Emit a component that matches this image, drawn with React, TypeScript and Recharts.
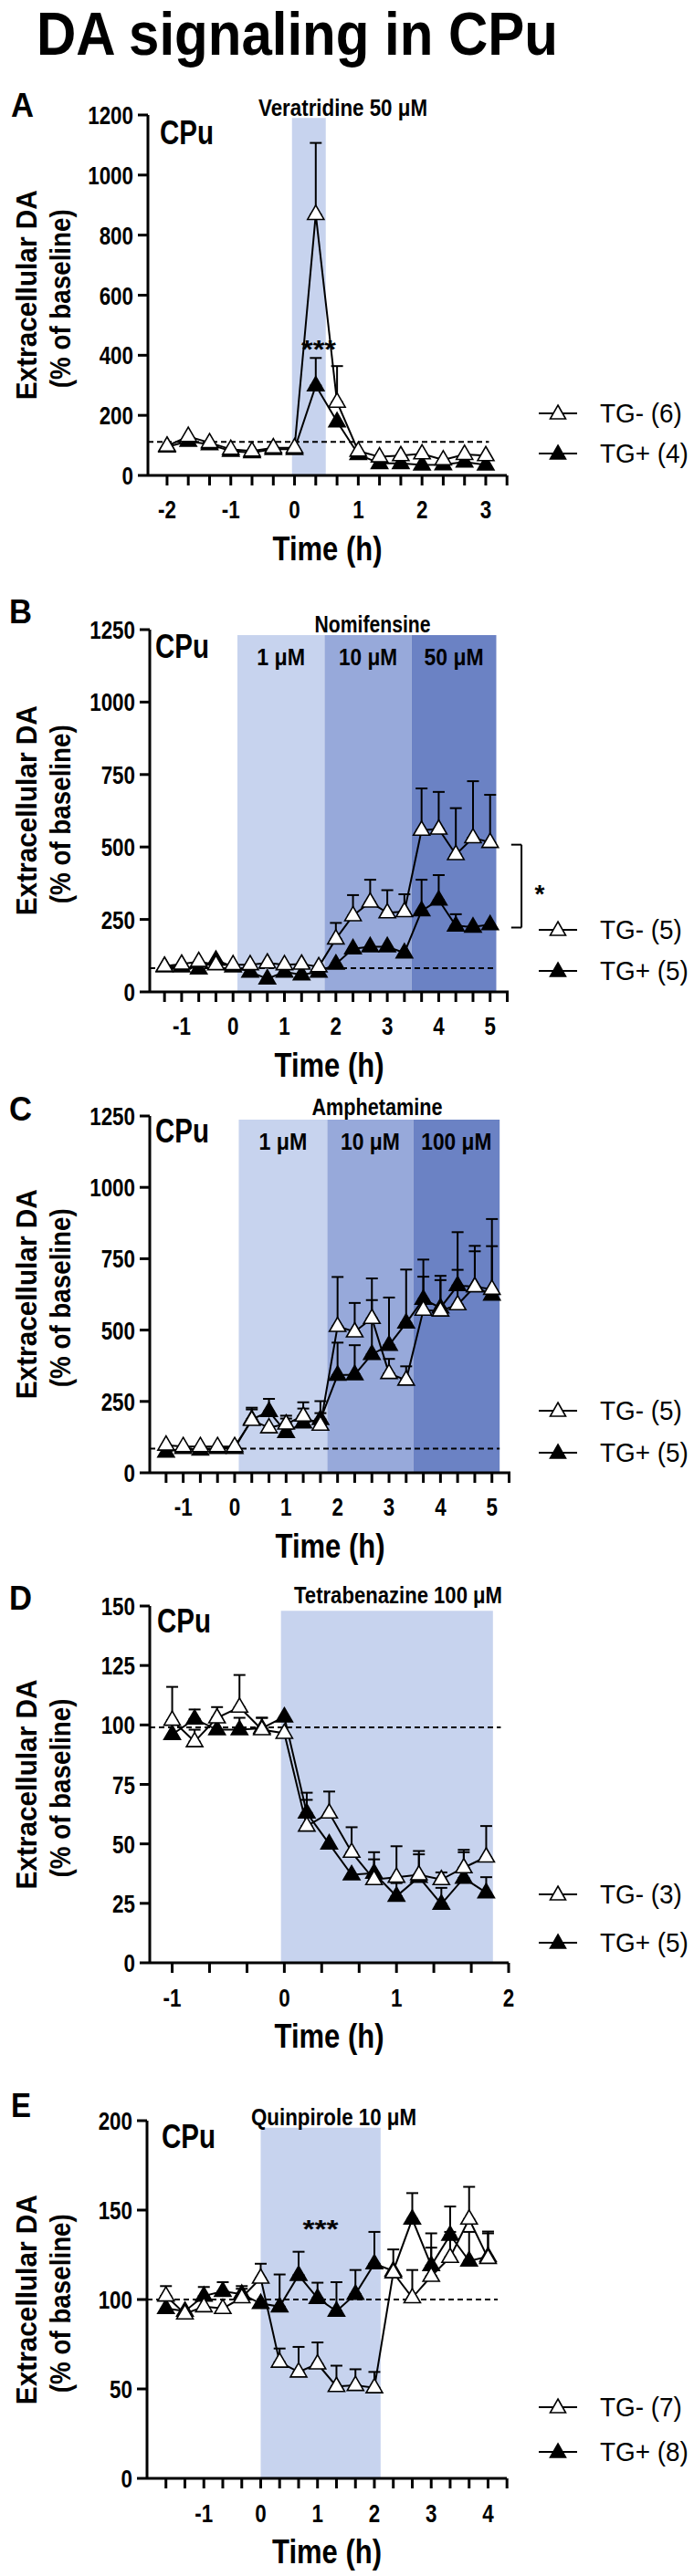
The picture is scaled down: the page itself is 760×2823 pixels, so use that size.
import React from "react";
import {
  ComposedChart,
  Line,
  XAxis,
  YAxis,
  ErrorBar,
  ReferenceArea,
  ReferenceLine,
  Legend,
} from "recharts";

const FONT = "'Liberation Sans', Arial, Helvetica, sans-serif";
const LIGHT = "#c7d3ee";
const MID = "#97a9da";
const DARK = "#6b82c4";

// ---------------- Panel A : Veratridine ----------------
const timeA = [-2, -1.667, -1.333, -1, -0.667, -0.333, 0, 0.333, 0.667, 1, 1.333, 1.667, 2, 2.333, 2.667, 3];
const tgMinusA = [98, 130, 109, 87, 81, 92, 92, 869, 244, 81, 62, 66, 72, 52, 70, 66];
const tgMinusTopA = [null, null, null, null, null, null, null, 1107, 364, null, null, null, null, null, null, null];
const tgPlusA = [95, 114, 103, 81, 76, 87, 87, 299, 179, 70, 40, 40, 35, 36, 45, 35];
const tgPlusTopA = [null, null, null, null, null, null, null, 391, null, null, null, null, null, null, null, null];
const xTicksA = [-2, -1.667, -1.333, -1, -0.667, -0.333, 0, 0.333, 0.667, 1, 1.333, 1.667, 2, 2.333, 2.667, 3, 3.333];
const yTicksA = [0, 200, 400, 600, 800, 1000, 1200];

// ---------------- Panel B : Nomifensine ----------------
const timeB = [-1.333, -1, -0.667, -0.333, 0, 0.333, 0.667, 1, 1.333, 1.667, 2, 2.333, 2.667, 3, 3.333, 3.667, 4, 4.333, 4.667, 5];
const tgMinusB = [89, 96, 105, 94, 94, 94, 100, 94, 96, 87, 183, 263, 310, 273, 277, 558, 562, 474, 532, 516];
const tgMinusTopB = [null, null, null, null, null, null, null, null, null, null, 238, 334, 387, 351, 337, 702, 690, 634, 727, 680];
const tgPlusB = [87, 87, 80, 110, 87, 69, 45, 69, 59, 69, 96, 149, 156, 156, 135, 280, 317, 228, 224, 232];
const tgPlusTopB = [null, null, null, null, null, null, null, null, null, null, null, null, null, null, null, 387, 403, 268, null, null];
const xTicksB = [-1.333, -1, -0.667, -0.333, 0, 0.333, 0.667, 1, 1.333, 1.667, 2, 2.333, 2.667, 3, 3.333, 3.667, 4, 4.333, 4.667, 5, 5.333];
const yTicksB = [0, 250, 500, 750, 1000, 1250];

// ---------------- Panel C : Amphetamine ----------------
const timeC = [-1.333, -1, -0.667, -0.333, 0, 0.333, 0.667, 1, 1.333, 1.667, 2, 2.333, 2.667, 3, 3.333, 3.667, 4, 4.333, 4.667, 5];
const tgMinusC = [97, 92, 92, 92, 92, 184, 158, 171, 199, 167, 513, 494, 541, 348, 325, 570, 567, 589, 652, 643];
const tgMinusTopC = [null, null, null, null, null, 228, null, 200, 247, 251, 686, 595, 681, 399, 373, 687, 675, 711, 795, 794];
const tgPlusC = [73, 86, 80, 86, 86, 187, 215, 142, 175, 187, 342, 344, 415, 447, 525, 608, 578, 656, 652, 623];
const tgPlusTopC = [null, null, null, null, null, 222, 259, 190, 225, 209, 456, 447, 605, 614, 712, 747, 690, 843, 776, 889];
const xTicksC = [-1.333, -1, -0.667, -0.333, 0, 0.333, 0.667, 1, 1.333, 1.667, 2, 2.333, 2.667, 3, 3.333, 3.667, 4, 4.333, 4.667, 5, 5.333];
const yTicksC = [0, 250, 500, 750, 1000, 1250];

// ---------------- Panel D : Tetrabenazine ----------------
const timeD = [-1, -0.8, -0.6, -0.4, -0.2, 0, 0.2, 0.4, 0.6, 0.8, 1, 1.2, 1.4, 1.6, 1.8];
const tgMinusD = [102, 93, 103, 107.5, 98, 96.5, 57.5, 63, 46.5, 35, 36, 37, 35, 40, 44.5];
const tgMinusTopD = [116, 98, 107.5, 121, 103, null, 68.5, 72, 57, 46.5, 49, 47, 38, 47.5, 57.5];
const tgPlusD = [96, 102.5, 98, 98, 98.6, 103.4, 63, 50, 37, 37.7, 28, 36, 24.7, 35.6, 29.5];
const tgPlusTopD = [null, 106.5, null, 103, 103, null, 71.5, null, null, 43.5, 33.5, 45.6, 31.5, 46.5, 36];
const xTicksD = [-1, -0.667, -0.333, 0, 0.333, 0.667, 1, 1.333, 1.667, 2];
const yTicksD = [0, 25, 50, 75, 100, 125, 150];

// ---------------- Panel E : Quinpirole ----------------
const timeE = [-1.667, -1.333, -1, -0.667, -0.333, 0, 0.333, 0.667, 1, 1.333, 1.667, 2, 2.333, 2.667, 3, 3.333, 3.667, 4];
const tgMinusE = [102, 92, 96, 95, 101, 112, 65, 59.5, 64, 51.4, 52, 50.7, 115, 101, 113, 123.6, 145, 123];
const tgMinusTopE = [107.5, null, null, null, 107.5, 120, 72.6, 73.5, 76, 63, 61, 59.5, 128, 116.5, 129, 137.8, 163, 138];
const tgPlusE = [95, 93.5, 102, 104.6, 103, 97.8, 96, 113.6, 100.7, 93.5, 103, 120, 116, 145, 119, 136, 121.6, 124];
const tgPlusTopE = [null, null, 107, 109.7, 106, null, 114, 126.7, 109.4, 109.7, 116.5, 137.8, null, 159.5, 137, 152, 137.8, 137];
const xTicksE = [-1.667, -1.333, -1, -0.667, -0.333, 0, 0.333, 0.667, 1, 1.333, 1.667, 2, 2.333, 2.667, 3, 3.333, 3.667, 4, 4.333];
const yTicksE = [0, 50, 100, 150, 200];

type Band = { x1: number; x2: number; y2: number; fill: string; text?: string; w?: number };
type Cfg = {
  key: string;
  top: number;
  bottom: number;
  left: number;
  right: number;
  domainX: [number, number];
  maxY: number;
  xTicks: number[];
  yTicks: number[];
  t: number[];
  neg: number[];
  negTop: (number | null)[];
  pos: number[];
  posTop: (number | null)[];
  base: number;
  baseEnd: number;
  bands: Band[];
  legend: [string, string];
  legendY: [number, number];
  bracket?: { x: number; x0: number; lo: number; hi: number };
};

const panels: Cfg[] = [
  {
    key: "A", top: 126, bottom: 520.5, left: 162, right: 555, domainX: [-2.3, 3.33], maxY: 1200,
    xTicks: xTicksA, yTicks: yTicksA, t: timeA, neg: tgMinusA, negTop: tgMinusTopA, pos: tgPlusA, posTop: tgPlusTopA,
    base: 112, baseEnd: 3.05,
    bands: [{ x1: -0.04, x2: 0.49, y2: 1190, fill: LIGHT }],
    legend: ["TG- (6)", "TG+ (4)"], legendY: [453, 497],
  },
  {
    key: "B", top: 690, bottom: 1086.5, left: 164, right: 557, domainX: [-1.62, 5.36], maxY: 1250,
    xTicks: xTicksB, yTicks: yTicksB, t: timeB, neg: tgMinusB, negTop: tgMinusTopB, pos: tgPlusB, posTop: tgPlusTopB,
    base: 82, baseEnd: 5.12,
    bands: [
      { x1: 0.085, x2: 1.78, y2: 1231, fill: LIGHT, text: "1 μM", w: 53 },
      { x1: 1.78, x2: 3.47, y2: 1231, fill: MID, text: "10 μM", w: 64 },
      { x1: 3.47, x2: 5.12, y2: 1231, fill: DARK, text: "50 μM", w: 65 },
    ],
    legend: ["TG- (5)", "TG+ (5)"], legendY: [1019, 1064],
    bracket: { x: 5.61, x0: 5.41, lo: 222, hi: 508 },
  },
  {
    key: "C", top: 1223, bottom: 1613.5, left: 164, right: 559, domainX: [-1.65, 5.36], maxY: 1250,
    xTicks: xTicksC, yTicks: yTicksC, t: timeC, neg: tgMinusC, negTop: tgMinusTopC, pos: tgPlusC, posTop: tgPlusTopC,
    base: 85, baseEnd: 5.15,
    bands: [
      { x1: 0.08, x2: 1.8, y2: 1237, fill: LIGHT, text: "1 μM", w: 53 },
      { x1: 1.8, x2: 3.47, y2: 1237, fill: MID, text: "10 μM", w: 65 },
      { x1: 3.47, x2: 5.15, y2: 1237, fill: DARK, text: "100 μM", w: 77 },
    ],
    legend: ["TG- (5)", "TG+ (5)"], legendY: [1546, 1592],
  },
  {
    key: "D", top: 1760, bottom: 2151, left: 164, right: 557, domainX: [-1.2, 2], maxY: 150,
    xTicks: xTicksD, yTicks: yTicksD, t: timeD, neg: tgMinusD, negTop: tgMinusTopD, pos: tgPlusD, posTop: tgPlusTopD,
    base: 99, baseEnd: 1.93,
    bands: [{ x1: -0.03, x2: 1.86, y2: 148, fill: LIGHT }],
    legend: ["TG- (3)", "TG+ (5)"], legendY: [2076, 2129],
  },
  {
    key: "E", top: 2324.3, bottom: 2716.7, left: 161, right: 555, domainX: [-2, 4.33], maxY: 200,
    xTicks: xTicksE, yTicks: yTicksE, t: timeE, neg: tgMinusE, negTop: tgMinusTopE, pos: tgPlusE, posTop: tgPlusTopE,
    base: 100, baseEnd: 4.17,
    bands: [{ x1: 0, x2: 2.11, y2: 196, fill: LIGHT }],
    legend: ["TG- (7)", "TG+ (8)"], legendY: [2638, 2687],
  },
];

const TriDot = (props: any) => {
  const { cx, cy, filled } = props;
  if (typeof cx !== "number" || typeof cy !== "number" || isNaN(cy)) return null;
  const pts = `${cx},${cy - 10} ${cx + 9},${cy + 5.5} ${cx - 9},${cy + 5.5}`;
  return <polygon points={pts} fill={filled ? "#000" : "#fff"} stroke="#000" strokeWidth={1.6} />;
};

const BandLabel = (props: any) => {
  const vb = props.viewBox || {};
  if (!props.text || typeof vb.x !== "number") return null;
  return (
    <text x={vb.x + vb.width / 2} y={vb.y + 33} textAnchor="middle" fontSize={25} fontWeight={700}
      fontFamily={FONT} fill="#000" textLength={props.w} lengthAdjust="spacingAndGlyphs">
      {props.text}
    </text>
  );
};

const LegendBox = ({ labels, gap }: { labels: [string, string]; gap: number }) => (
  <svg width={180} height={gap + 40} style={{ display: "block" }}>
    {labels.map((lab, i) => {
      const y = 20 + i * gap;
      const cx = 26;
      return (
        <g key={lab}>
          <line x1={5} x2={47} y1={y} y2={y} stroke="#000" strokeWidth={2} />
          <polygon points={`${cx},${y - 9} ${cx + 8.5},${y + 6} ${cx - 8.5},${y + 6}`}
            fill={i === 0 ? "#fff" : "#000"} stroke="#000" strokeWidth={1.6} />
          <text transform={`translate(72,${y + 10}) scale(0.93,1)`} fontSize={30} fontFamily={FONT} fill="#000">{lab}</text>
        </g>
      );
    })}
  </svg>
);

function Panel({ cfg }: { cfg: Cfg }) {
  const chartTop = cfg.top - 80;
  const relTop = 80;
  const relBottom = cfg.bottom - chartTop;
  const height = Math.round(relBottom + 115);
  const rows = cfg.t.map((tv, i) => ({
    t: tv,
    neg: cfg.neg[i],
    pos: cfg.pos[i],
    negErr: cfg.negTop[i] != null ? [0, (cfg.negTop[i] as number) - cfg.neg[i]] : null,
    posErr: cfg.posTop[i] != null ? [0, (cfg.posTop[i] as number) - cfg.pos[i]] : null,
  }));

  const XTick = (p: any) => {
    const v = p.payload.value;
    const r = Math.round(v);
    if (Math.abs(v - r) > 0.02) return <g />;
    return (
      <text transform={`translate(${p.x},${relBottom + 47.5}) scale(0.8,1)`} textAnchor="middle"
        fontSize={28} fontWeight={700} fontFamily={FONT} fill="#000">
        {String(r)}
      </text>
    );
  };
  const YTick = (p: any) => (
    <text transform={`translate(${cfg.left - 16},${p.y + 10}) scale(0.8,1)`} textAnchor="end"
      fontSize={28} fontWeight={700} fontFamily={FONT} fill="#000">
      {String(p.payload.value)}
    </text>
  );
  const midY = (relTop + relBottom) / 2;
  const YTitle = () => (
    <g fontFamily={FONT} fontWeight={700} fontSize={31} fill="#000">
      <text transform={`translate(40,${midY}) rotate(-90)`} textAnchor="middle" textLength={230} lengthAdjust="spacingAndGlyphs">Extracellular DA</text>
      <text transform={`translate(77,${midY + 4}) rotate(-90)`} textAnchor="middle" textLength={196} lengthAdjust="spacingAndGlyphs">(% of baseline)</text>
    </g>
  );
  const XTitle = () => (
    <text x={(cfg.left + cfg.right) / 2} y={relBottom + 93} textAnchor="middle" fontFamily={FONT}
      fontWeight={700} fontSize={37} fill="#000" textLength={120} lengthAdjust="spacingAndGlyphs">
      Time (h)
    </text>
  );

  const gap = cfg.legendY[1] - cfg.legendY[0];

  return (
    <div style={{ position: "absolute", left: 0, top: chartTop, width: 760, height }}>
      <ComposedChart width={760} height={height} data={rows}
        margin={{ top: relTop, right: 760 - cfg.right, bottom: 0, left: 0 }}>
        <XAxis type="number" dataKey="t" domain={cfg.domainX} allowDataOverflow scale="linear"
          ticks={cfg.xTicks} interval={0} tickSize={11} height={115}
          axisLine={{ stroke: "#000", strokeWidth: 3 }} tickLine={{ stroke: "#000", strokeWidth: 3 }}
          tick={<XTick />} label={<XTitle />} />
        <YAxis type="number" domain={[0, cfg.maxY]} allowDataOverflow ticks={cfg.yTicks} interval={0}
          tickSize={11} width={cfg.left}
          axisLine={{ stroke: "#000", strokeWidth: 3 }} tickLine={{ stroke: "#000", strokeWidth: 3 }}
          tick={<YTick />} label={<YTitle />} />
        {cfg.bands.map((b, i) => (
          <ReferenceArea key={"band" + i} x1={b.x1} x2={b.x2} y1={0} y2={b.y2} fill={b.fill} fillOpacity={1}
            stroke="none" ifOverflow="visible" label={<BandLabel text={b.text} w={b.w} />} />
        ))}
        <ReferenceLine segment={[{ x: cfg.domainX[0], y: cfg.base }, { x: cfg.baseEnd, y: cfg.base }]}
          stroke="#000" strokeWidth={2} strokeDasharray="6 4" ifOverflow="visible" />
        {cfg.bracket ? (
          <ReferenceLine segment={[{ x: cfg.bracket.x, y: cfg.bracket.lo }, { x: cfg.bracket.x, y: cfg.bracket.hi }]}
            stroke="#000" strokeWidth={2} ifOverflow="visible" />
        ) : null}
        {cfg.bracket ? (
          <ReferenceLine segment={[{ x: cfg.bracket.x0, y: cfg.bracket.hi }, { x: cfg.bracket.x, y: cfg.bracket.hi }]}
            stroke="#000" strokeWidth={2} ifOverflow="visible" />
        ) : null}
        {cfg.bracket ? (
          <ReferenceLine segment={[{ x: cfg.bracket.x0, y: cfg.bracket.lo }, { x: cfg.bracket.x, y: cfg.bracket.lo }]}
            stroke="#000" strokeWidth={2} ifOverflow="visible" />
        ) : null}
        <Line dataKey="pos" stroke="none" dot={false} activeDot={false} isAnimationActive={false} legendType="none">
          <ErrorBar dataKey="posErr" direction="y" width={6.5} stroke="#000" strokeWidth={2} />
        </Line>
        <Line dataKey="neg" stroke="none" dot={false} activeDot={false} isAnimationActive={false} legendType="none">
          <ErrorBar dataKey="negErr" direction="y" width={6.5} stroke="#000" strokeWidth={2} />
        </Line>
        <Line type="linear" dataKey="pos" stroke="#000" strokeWidth={2} dot={<TriDot filled />}
          activeDot={false} isAnimationActive={false} />
        <Line type="linear" dataKey="neg" stroke="#000" strokeWidth={2} dot={<TriDot filled={false} />}
          activeDot={false} isAnimationActive={false} />
        <Legend layout="vertical" align="center" verticalAlign="middle"
          wrapperStyle={{ left: 585, top: cfg.legendY[0] - 20 - chartTop, width: 180 }}
          content={<LegendBox labels={cfg.legend} gap={gap} />} />
      </ComposedChart>
    </div>
  );
}

type Ann = { text: string; x: number; y: number; size: number; w?: number; anchor?: string };
const annotations: Ann[] = [
  { text: "A", x: 12, y: 128, size: 37, w: 25 },
  { text: "CPu", x: 175, y: 158, size: 36, w: 59 },
  { text: "Veratridine 50 μM", x: 375.5, y: 127, size: 25, w: 185, anchor: "middle" },
  { text: "***", x: 349, y: 392, size: 28, w: 38, anchor: "middle" },
  { text: "B", x: 10, y: 683, size: 37, w: 25 },
  { text: "CPu", x: 170, y: 721, size: 36, w: 59 },
  { text: "Nomifensine", x: 408, y: 693, size: 25, w: 127, anchor: "middle" },
  { text: "*", x: 591, y: 989, size: 28, anchor: "middle" },
  { text: "C", x: 10, y: 1228, size: 37, w: 25 },
  { text: "CPu", x: 170, y: 1252, size: 36, w: 59 },
  { text: "Amphetamine", x: 413, y: 1222, size: 25, w: 143, anchor: "middle" },
  { text: "D", x: 10, y: 1764, size: 37, w: 25 },
  { text: "CPu", x: 172, y: 1789, size: 36, w: 59 },
  { text: "Tetrabenazine 100 μM", x: 436, y: 1757, size: 25, w: 228, anchor: "middle" },
  { text: "E", x: 12, y: 2320, size: 37, w: 22 },
  { text: "CPu", x: 177, y: 2354, size: 36, w: 59 },
  { text: "Quinpirole 10 μM", x: 365.5, y: 2329, size: 25, w: 181, anchor: "middle" },
  { text: "***", x: 351, y: 2452, size: 28, w: 39, anchor: "middle" },
];

export default function App() {
  return (
    <div style={{ position: "absolute", left: 0, top: 0, width: 760, height: 2823, background: "#fff", overflow: "hidden" }}>
      {panels.map((p) => (
        <Panel key={p.key} cfg={p} />
      ))}
      <svg width={760} height={2823} style={{ position: "absolute", left: 0, top: 0, pointerEvents: "none" }}>
        <text x={40} y={60} fontFamily={FONT} fontWeight={700} fontSize={66} fill="#000" textLength={571}
          lengthAdjust="spacingAndGlyphs">DA signaling in CPu</text>
        {annotations.map((a, i) => (
          <text key={i} x={a.x} y={a.y} fontFamily={FONT} fontWeight={700} fontSize={a.size} fill="#000"
            textAnchor={a.anchor || "start"} textLength={a.w} lengthAdjust={a.w ? "spacingAndGlyphs" : undefined}>
            {a.text}
          </text>
        ))}
      </svg>
    </div>
  );
}
